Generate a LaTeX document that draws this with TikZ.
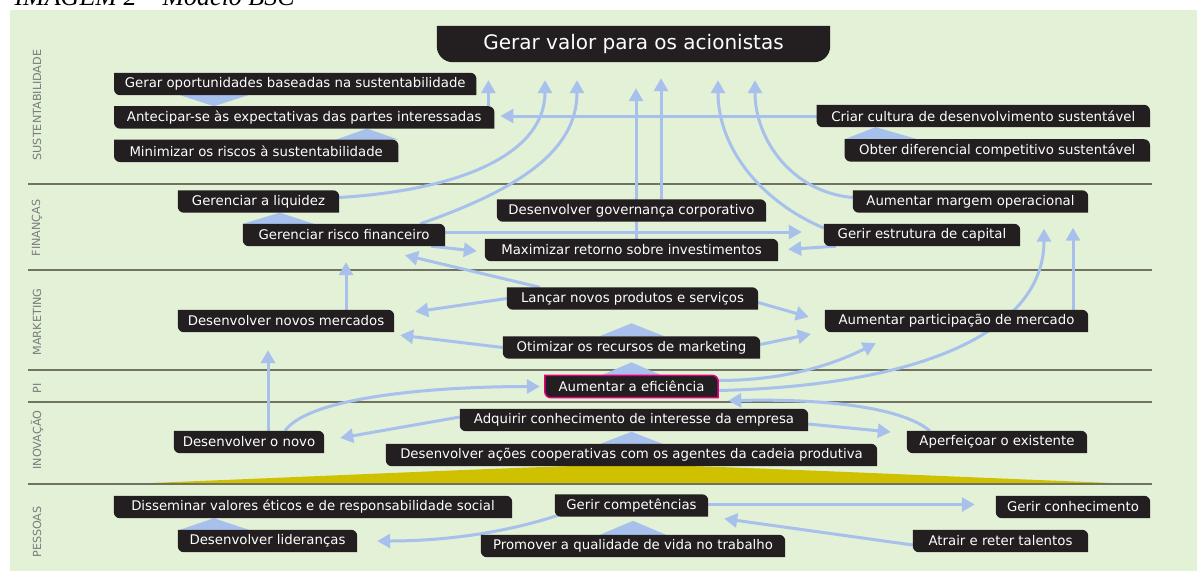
\documentclass[tikz,border=0pt]{standalone}
\usepackage{fontspec}
\usepackage{tikz}
\usetikzlibrary{arrows.meta,positioning,backgrounds}
\newfontfamily\bxfont{DejaVu Sans}
\newfontfamily\capfont{Liberation Serif}
\definecolor{greenbg}{HTML}{E3F1D6}
\definecolor{boxc}{HTML}{231F20}
\definecolor{arrc}{HTML}{A7C1EC}
\definecolor{rulec}{HTML}{707262}
\definecolor{secc}{HTML}{7B7C7E}
\definecolor{wedgec}{HTML}{CFC000}
\definecolor{pink}{HTML}{E6007E}
\pgfdeclarelayer{links}
\pgfdeclarelayer{background}
\pgfsetlayers{links,background,main}
% black box, rounded at bottom left and top right
\newcommand\leaf[2][]{%
  \path[#1] (#2.north west) -- ([xshift=-6pt]#2.north east)
    arc[start angle=90, end angle=0, radius=6pt] -- (#2.south east)
    -- ([xshift=6pt]#2.south west) arc[start angle=270, end angle=180, radius=6pt] -- cycle;}

\begin{document}
\begin{tikzpicture}[x=1pt, y=-1pt,
  bx/.style={text=white, font=\bxfont\fontsize{13.3}{15}\selectfont, minimum height=22, inner sep=0pt},
  arr/.style={-{Triangle[length=13pt, width=14pt]}, line width=3pt, arrc},
  tri/.style={fill=arrc},
  rule/.style={line width=2.2pt, rulec},
  sec/.style={rotate=90, text=secc, font=\bxfont\fontsize{11.2}{13}\selectfont}]
  \useasboundingbox (0,0) rectangle (1197,571);
  \begin{pgfonlayer}{links}
    \fill[greenbg] (10,10) rectangle (1197,571);
    \fill[wedgec] (126,484) .. controls (400,473) and (560,465) .. (631,465)
      .. controls (702,465) and (862,473) .. (1136,484) -- cycle;
    \foreach \y in {184,270,370,402,484}
      \draw[rule] (28,\y) -- (1152,\y);
  \end{pgfonlayer}
  \node[anchor=base west, font=\capfont\itshape\fontsize{26}{26}\selectfont] (cap) at (11,5) {IMAGEM 2 – Modelo BSC};
  % perspectives
  \node[sec] (lsus) at (37,105) {SUSTENTABILIDADE};
  \node[sec] (lfin) at (37,228) {FINANÇAS};
  \node[sec] (lmkt) at (37,322) {MARKETING};
  \node[sec] (lpi) at (37,388) {PI};
  \node[sec] (linv) at (37,440) {INOVAÇÃO};
  \node[sec] (lpes) at (37,532) {PESSOAS};
  % sustentabilidade
  \node[bx, minimum width=393, minimum height=36, font=\bxfont\fontsize{20}{22}\selectfont] (valor) at (633.5,44) {Gerar valor para os acionistas};
  \node[bx, minimum width=362, anchor=west] (oport) at (114,84) {Gerar oportunidades baseadas na sustentabilidade};
  \node[bx, minimum width=380, below right=11pt and 0pt of oport.south west] (antec) {Antecipar-se às expectativas das partes interessadas};
  \node[bx, minimum width=284, below right=11pt and 0pt of antec.south west] (minim) {Minimizar os riscos à sustentabilidade};
  \node[bx, minimum width=333, anchor=east] (cultura) at (1150,116) {Criar cultura de desenvolvimento sustentável};
  \node[bx, minimum width=305, below left=12pt and 0pt of cultura.south east] (difer) {Obter diferencial competitivo sustentável};
  % finanças
  \node[bx, minimum width=161] (liquid) at (258.5,201.5) {Gerenciar a liquidez};
  \node[bx, minimum width=202] (risco) at (344,235) {Gerenciar risco financeiro};
  \node[bx, minimum width=269] (govern) at (631.5,210.5) {Desenvolver governança corporativo};
  \node[bx, minimum width=293] (maxim) at (631.5,250) {Maximizar retorno sobre investimentos};
  \node[bx, minimum width=235] (margem) at (970.5,201.5) {Aumentar margem operacional};
  \node[bx, minimum width=196] (estrut) at (922,235) {Gerir estrutura de capital};
  % marketing
  \node[bx, minimum width=251] (lancar) at (632.5,298.5) {Lançar novos produtos e serviços};
  \node[bx, minimum width=216] (mercad) at (286,321) {Desenvolver novos mercados};
  \node[bx, minimum width=263] (partic) at (956.5,321) {Aumentar participação de mercado};
  \node[bx, minimum width=257] (otimiz) at (631.5,347.5) {Otimizar os recursos de marketing};
  % PI
  \node[bx, minimum width=173] (efic) at (631.5,386.5) {Aumentar a eficiência};
  % inovação
  \node[bx, minimum width=348] (adquir) at (634,420) {Adquirir conhecimento de interesse da empresa};
  \node[bx, minimum width=150] (novo) at (249,442) {Desenvolver o novo};
  \node[bx, minimum width=180] (aperf) at (997,442) {Aperfeiçoar o existente};
  \node[bx, minimum width=491] (acoes) at (631.5,455) {Desenvolver ações cooperativas com os agentes da cadeia produtiva};
  % pessoas
  \node[bx, minimum width=398] (dissem) at (313,507) {Disseminar valores éticos e de responsabilidade social};
  \node[bx, minimum width=153] (compet) at (631.5,505.5) {Gerir competências};
  \node[bx, minimum width=154] (conhec) at (1073,507) {Gerir conhecimento};
  \node[bx, minimum width=179] (lider) at (267.5,541) {Desenvolver lideranças};
  \node[bx, minimum width=304] (promov) at (633,546) {Promover a qualidade de vida no trabalho};
  \node[bx, minimum width=175] (talent) at (1000.5,541) {Atrair e reter talentos};
  \begin{scope}[on background layer]
    \fill[boxc] (valor.north west) -- (valor.north east) -- ([yshift=16pt]valor.south east)
      arc[start angle=0, end angle=-90, radius=16pt] -- ([xshift=16pt]valor.south west)
      arc[start angle=270, end angle=180, radius=16pt] -- cycle;
    \foreach \n in {oport,antec,minim,cultura,difer,liquid,risco,govern,maxim,margem,estrut,
      lancar,mercad,partic,otimiz,adquir,novo,aperf,acoes,dissem,compet,conhec,lider,promov,talent}
      \leaf[fill=boxc]{\n};
    \leaf[fill=boxc, draw=pink, line width=1.5pt]{efic};
  \end{scope}
  \begin{pgfonlayer}{links}
    % triangles between stacked boxes
    \fill[tri] ([xshift=66pt]oport.south west) -- ([xshift=134pt]oport.south west) -- ([xshift=100pt]antec.north west) -- cycle;
    \fill[tri] ([xshift=222pt]minim.north west) -- (minim.north east) -- ([xshift=253pt]antec.south west) -- cycle;
    \fill[tri] (difer.north west) -- ([xshift=73pt]difer.north west) -- ([xshift=59pt]cultura.south west) -- cycle;
    \fill[tri] (risco.north west) -- ([xshift=71pt]risco.north west) -- ([xshift=102pt]liquid.south west) -- cycle;
    \fill[tri] ([xshift=-32pt]otimiz.north) -- ([xshift=33pt]otimiz.north) -- ([yshift=13pt]otimiz.north) -- cycle;
    \fill[tri] ([xshift=-30pt]efic.north) -- ([xshift=30pt]efic.north) -- ([yshift=13pt]efic.north) -- cycle;
    \fill[tri] ([xshift=-31pt]acoes.north) -- ([xshift=31pt]acoes.north) -- ([yshift=12pt]acoes.north) -- cycle;
    \fill[tri] ([xshift=-33pt]promov.north) -- ([xshift=33pt]promov.north) -- ([yshift=14pt]promov.north) -- cycle;
    \fill[tri] ([xshift=2pt]lider.north west) -- ([xshift=71pt]lider.north west) -- ([xshift=100pt]dissem.south west) -- cycle;
    % sustentabilidade
    \draw[arr] ([xshift=-6pt]antec.north east) -- ([xshift=-6pt, yshift=-18pt]antec.north east |- valor.south);
    \draw[arr, shorten >=6pt] (cultura.west) -- (cultura.west -| antec.east);
    \draw[arr] ([yshift=4pt]liquid.east) .. controls +(130,-8) and +(0,70) .. ([shift={(-88.5,18)}]valor.south);
    \draw[arr] ([xshift=-25pt]risco.north east) .. controls +(100,-35) and +(0,70) .. ([shift={(-56.5,18)}]valor.south);
    \draw[arr] ([xshift=4.5pt]maxim.north) -- ([xshift=4.5pt, yshift=-26pt]maxim.north |- valor.south);
    \draw[arr] ([xshift=29.5pt]govern.north) -- ([xshift=29.5pt, yshift=-16pt]govern.north |- valor.south);
    \draw[arr] ([yshift=7pt]estrut.west) .. controls +(-60,-25) and +(0,70) .. ([shift={(84.5,18)}]valor.south);
    \draw[arr] ([yshift=4pt]margem.west) .. controls +(-60,-5) and +(0,60) .. ([shift={(121.5,18)}]valor.south);
    % finanças
    \draw[arr, shorten >=22pt] ([yshift=3pt]risco.east) -- ([yshift=3pt]risco.east -| estrut.west);
    \draw[arr, shorten >=8pt] ([xshift=-14pt]risco.south east) -- ([yshift=-2pt]maxim.west);
    \draw[arr, shorten >=10pt] ([xshift=12pt]estrut.south west) -- (maxim.east);
    \draw[arr] ([xshift=33pt]lancar.north west) -- ([shift={(61,9)}]risco.south);
    \draw[arr, shorten >=16pt] ([xshift=60pt]mercad.north) -- ([xshift=60pt]mercad.north |- risco.south);
    % marketing
    \draw[arr] (lancar.west) -- ([shift={(21,2)}]mercad.north east);
    \draw[arr] (otimiz.west) -- ([shift={(6,3)}]mercad.south east);
    \draw[arr] ([yshift=-4pt]lancar.east) -- ([shift={(-16,-4)}]partic.west);
    \draw[arr] ([yshift=3pt]otimiz.east) -- ([shift={(-14,13)}]partic.west);
    \draw[arr] ([yshift=6pt]efic.east) .. controls +(70,0) and +(-40,20) .. ([shift={(51,11)}]partic.south west);
    \draw[arr] ([yshift=-4pt]efic.east) .. controls +(210,-5) and +(0,100) .. ([shift={(73.5,16)}]margem.south);
    \draw[arr, shorten >=15pt] ([xshift=116.5pt]partic.north) -- ([xshift=116.5pt]partic.north |- margem.south);
    % inovação
    \draw[arr, shorten >=18pt] ([xshift=19pt]novo.north) -- ([xshift=19pt]novo.north |- mercad.south);
    \draw[arr] ([xshift=36pt]novo.north) .. controls +(25,-35) and +(-100,0) .. ([xshift=-5pt]efic.west);
    \draw[arr] ([yshift=3pt]adquir.west) -- ([shift={(16,-4)}]novo.east);
    \draw[arr] ([yshift=-4pt]adquir.east) -- ([shift={(-16,-10)}]aperf.west);
    \draw[arr] ([xshift=23pt]aperf.north west) .. controls +(-30,-25) and +(90,-2) .. ([shift={(10,3)}]efic.south east);
    % pessoas
    \draw[arr, shorten >=21pt] ([yshift=1pt]compet.east) -- ([yshift=1pt]compet.east -| conhec.west);
    \draw[arr] ([shift={(5,-2)}]compet.south west) .. controls +(-60,20) and +(60,0) .. ([xshift=20pt]lider.east);
    \draw[arr] ([yshift=-4pt]talent.west) -- ([shift={(16,2)}]compet.south east);
  \end{pgfonlayer}
\end{tikzpicture}
\end{document}
